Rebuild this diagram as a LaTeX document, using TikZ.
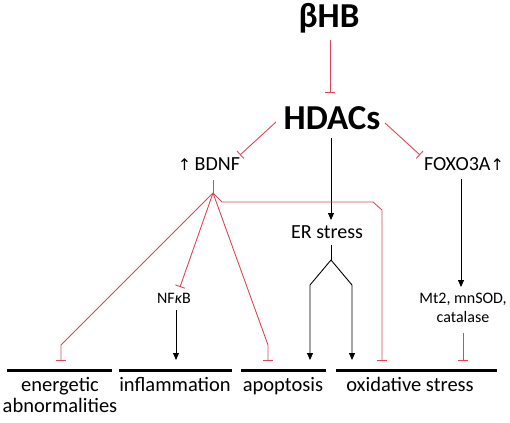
\documentclass[tikz,border=0pt]{standalone}
\usepackage{fontspec}
\setmainfont{Carlito}
\newfontfamily\symfont{DejaVu Sans}
\usetikzlibrary{arrows.meta}
\definecolor{inhred}{RGB}{222,70,88}
\tikzset{
  inh/.style={draw=inhred, line width=0.9pt, -{Bar[width=10pt,line width=0.9pt]}},
  redline/.style={draw=inhred, line width=0.9pt},
  act/.style={draw=black, line width=0.9pt, -{Triangle[length=7pt,width=6pt]}},
  blackline/.style={draw=black, line width=0.9pt},
  base/.style={draw=black, line width=3pt},
  big/.style={font=\bfseries\fontsize{35}{40}\selectfont, inner sep=0pt},
  mid/.style={font=\fontsize{20}{23}\selectfont, inner sep=0pt},
  small/.style={font=\fontsize{16}{19}\selectfont, inner sep=0pt, align=center},
  lab/.style={font=\fontsize{20.5}{21}\selectfont, inner sep=0pt, align=center, anchor=north}
}
\begin{document}
\begin{tikzpicture}[x=1pt,y=-1pt]
\useasboundingbox (0,0) rectangle (510,422);
% nodes
\node[big] (bhb) at (329,18) {βHB};
\node[big] (hdac) at (332,118) {HDACs};
\node[mid] (bdnf) at (209,164) {{\symfont\fontsize{16}{19}\selectfont ↑}\,BDNF};
\node[mid] (foxo) at (464,164) {FOXO3A{\symfont\fontsize{16}{19}\selectfont ↑}};
\node[mid] (er) at (327,232) {ER stress};
\node[small] (nfkb) at (174,298) {NF\textit{κ}B};
\node[small] (mt) at (463,308) {Mt2, mnSOD,\\catalase};
% coordinates
\coordinate (bhbS) at (330,40);
\coordinate (hdN) at (330,93);
\coordinate (hdL) at (276,122);
\coordinate (bdT) at (240,155);
\coordinate (hdR) at (385,123);
\coordinate (foT) at (420,155);
\coordinate (hdS) at (331,138);
\coordinate (erN) at (331,220);
\coordinate (foS) at (461,179);
\coordinate (mtN) at (461,287);
\coordinate (mtS) at (463,333);
\coordinate (bdS) at (213,180);
\coordinate (hub) at (213,193);
\coordinate (hubR) at (222,202);
\coordinate (oxC1) at (373,202);
\coordinate (oxC2) at (382,210);
\coordinate (nfT) at (180,287);
\coordinate (enC) at (61,345);
\coordinate (apC) at (268,345);
\coordinate (nfS) at (176,310);
\coordinate (erS) at (331,245);
\coordinate (fork) at (331,260);
\coordinate (fl) at (310,285);
\coordinate (fr) at (352,285);
% baselines
\coordinate (b1a) at (7,370);   \coordinate (b1b) at (112,370);
\coordinate (b2a) at (119,370); \coordinate (b2b) at (232,370);
\coordinate (b3a) at (241,370); \coordinate (b3b) at (326,370);
\coordinate (b4a) at (336,370); \coordinate (b4b) at (497,370);
\draw[base] (b1a) -- (b1b);
\draw[base] (b2a) -- (b2b);
\draw[base] (b3a) -- (b3b);
\draw[base] (b4a) -- (b4b);
% labels
\node[lab] (en) at (60,377) {energetic\\abnormalities};
\node[lab] (inf) at (175,377) {inflammation};
\node[lab] (apo) at (283,377) {apoptosis};
\node[lab] (ox) at (410,377) {oxidative stress};
% connectors
\draw[inh] (bhbS) -- (hdN);
\draw[inh] (hdL) -- (bdT);
\draw[inh] (hdR) -- (foT);
\draw[act] (hdS) -- (erN);
\draw[act] (foS) -- (mtN);
\draw[inh] (mtS) -- (mtS |- 0,361);
\draw[redline] (bdS) -- (hub);
\draw[inh] (hub) -- (enC) -- (enC |- 0,361);
\draw[inh] (hub) -- (nfT);
\draw[inh] (hub) -- (apC) -- (apC |- 0,361);
\draw[inh] (hub) -- (hubR) -- (oxC1) -- (oxC2) -- (oxC2 |- 0,361);
\draw[act] (nfS) -- (nfS |- 0,360);
\draw[blackline] (erS) -- (fork);
\draw[act] (fork) -- (fl) -- (fl |- 0,360);
\draw[act] (fork) -- (fr) -- (fr |- 0,360);
\end{tikzpicture}
\end{document}
